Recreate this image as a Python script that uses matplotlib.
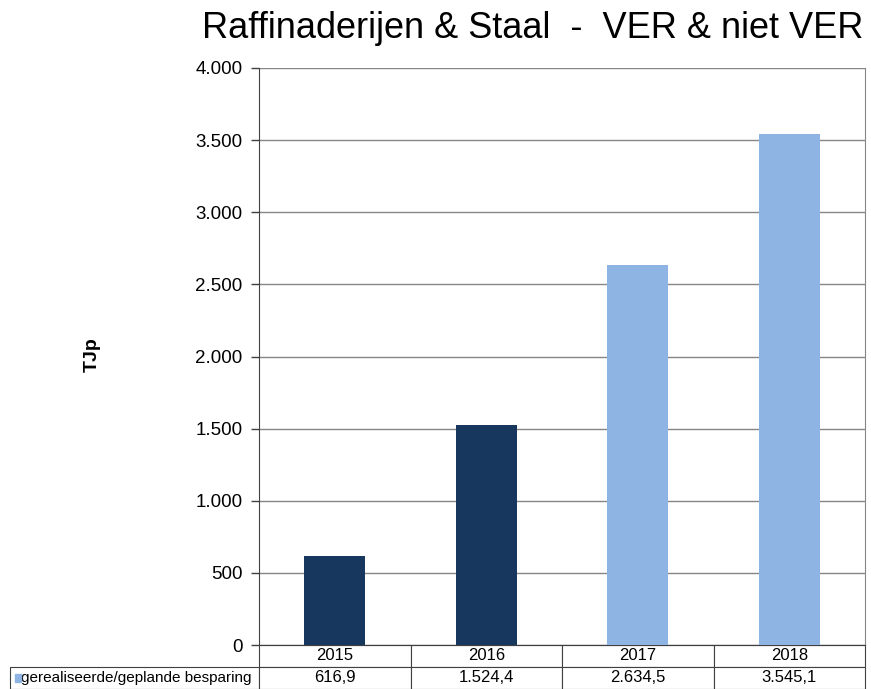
import matplotlib.pyplot as plt
from matplotlib.patches import Rectangle

plt.rcParams['font.family'] = ['Liberation Sans', 'DejaVu Sans']

jaren = ["2015", "2016", "2017", "2018"]
besparing = [616.9, 1524.4, 2634.5, 3545.1]
waarden_tekst = ["616,9", "1.524,4", "2.634,5", "3.545,1"]
reeks_naam = "gerealiseerde/geplande besparing"
kleuren = ["#17375E", "#17375E", "#8DB4E2", "#8DB4E2"]
yticks = [0, 500, 1000, 1500, 2000, 2500, 3000, 3500, 4000]
ytick_labels = ["0", "500", "1.000", "1.500", "2.000", "2.500", "3.000", "3.500", "4.000"]

W, H = 871, 689
fig = plt.figure(figsize=(W / 100, H / 100), dpi=100)
links, rechts, boven, onder = 259, 865, 68, 645
ax = fig.add_axes([links / W, (H - onder) / H, (rechts - links) / W, (onder - boven) / H])

x = range(len(jaren))
ax.bar(x, besparing, width=0.4, color=kleuren, zorder=3)
ax.set_xlim(-0.5, len(jaren) - 0.5)
ax.set_ylim(0, 4000)
ax.set_yticks(yticks)
ax.set_yticklabels(ytick_labels, fontsize=13.5)
ax.set_xticks([])
ax.yaxis.grid(True, color="#868686", linewidth=1, zorder=0)
ax.tick_params(axis="y", direction="out", length=6, width=1, color="#404040", pad=6)
for kant in ["left", "bottom"]:
    ax.spines[kant].set_color("#404040")
for kant in ["right", "top"]:
    ax.spines[kant].set_color("#868686")
ax.spines["top"].set_visible(False)

fig.text(92 / W, 1 - 355 / H, "TJp", fontsize=14, fontweight="bold",
         rotation=90, ha="center", va="center")

fig.text(533 / W, 1 - 28 / H, "Raffinaderijen & Staal  -  VER & niet VER",
         fontsize=26, ha="center", va="center")

# tabel onder de grafiek
rij_h = 22 / (onder - boven)
label_b = (links - 10) / (rechts - links)
tabel = ax.table(cellText=[[reeks_naam] + waarden_tekst],
                 colLabels=[""] + jaren,
                 cellLoc="center",
                 bbox=[-label_b, -2 * rij_h, 1 + label_b, 2 * rij_h],
                 colWidths=[label_b] + [0.25] * 4)
tabel.auto_set_font_size(False)
for (r, c), cel in tabel.get_celld().items():
    cel.set_edgecolor("#404040")
    cel.set_linewidth(0.8)
    cel.get_text().set_fontsize(12)
    if r == 0 and c == 0:
        cel.set_visible(False)
    if r == 1 and c == 0:
        cel.get_text().set_ha("left")
        cel.get_text().set_fontsize(11)
        cel.PAD = 0.045

ax.add_patch(Rectangle((-label_b + 0.008, -2 * rij_h + rij_h * 0.3), 0.010, rij_h * 0.4,
                       transform=ax.transAxes, color="#8DB4E2", clip_on=False))

fig.savefig("out.png", dpi=100)
